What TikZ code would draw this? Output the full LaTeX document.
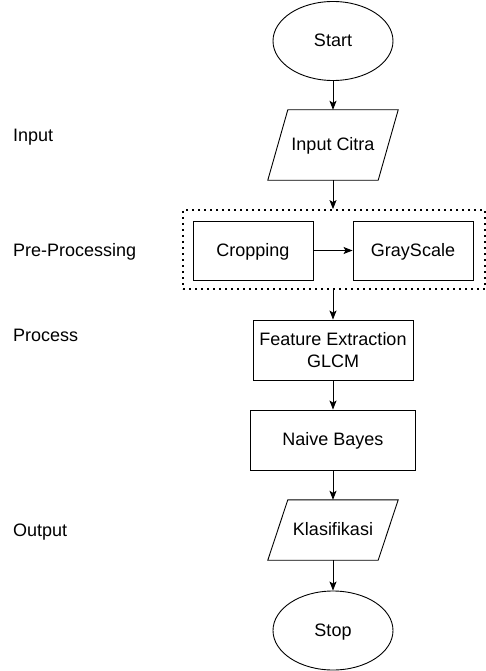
\documentclass[tikz,border=0pt]{standalone}
\usepackage{fontspec}
\setmainfont{Liberation Sans}
\usetikzlibrary{shapes.geometric}
\usetikzlibrary{calc}
\usetikzlibrary{arrows.meta}
\tikzset{linha/.style={text height=14.8pt,text depth=3.8pt}}
\tikzset{passo/.style={draw=#1,line width=0.9pt,minimum width=120pt,minimum height=59pt,inner sep=0pt},passo/.default=black}
\tikzset{terminal/.style={ellipse,draw=#1,line width=0.9pt,minimum width=120pt,minimum height=79pt,inner sep=0pt,linha},terminal/.default=black}
\tikzset{dado/.style={color=#1,line width=0.9pt},dado/.default=black}
\tikzset{seta/.style={color=#1,line width=0.9pt,-{Stealth[length=9pt,width=7pt,inset=2pt]}},seta/.default=black}
\tikzset{grupo/.style={draw=#1,line width=1.8pt,dash pattern=on 1.8pt off 4.2pt},grupo/.default=black}
\tikzset{rotulo/.style={anchor=west,inner sep=0pt,linha}}

\begin{document}
\begin{tikzpicture}[x=1pt,y=-1pt,font=\fontsize{18}{21.5}\selectfont]
	\useasboundingbox (0,0) rectangle (486,671);

	% Rotulos das etapas
	\node [rotulo] (lInput) at (13,136.4) {Input};
	\node [rotulo] (lPre) at (13,251.4) {Pre-Processing};
	\node [rotulo] (lProc) at (13,336.4) {Process};
	\node [rotulo] (lOut) at (13,531.4) {Output};

	% Inicio e entrada
	\node [terminal] (start) at (333,41) {Start};
	\node [inner sep=0pt,minimum width=110pt,minimum height=70pt,linha] (citra) at (333,145) {Input Citra};
	\draw [dado] ($(citra.north west)+(10,0)$) -- ($(citra.north east)+(10,0)$) --
				($(citra.south east)-(10,0)$) -- ($(citra.south west)-(10,0)$) -- cycle;

	% Pre-processamento
	\node [grupo,minimum width=302pt,minimum height=79pt] (pre) at (334,249.5) {};
	\node [passo,linha] (crop) at (253,250.5) {Cropping};
	\node [passo,linha] (gray) at (413,250.5) {GrayScale};

	% Processo
	\node [passo,minimum width=160pt,minimum height=60pt,align=center] (glcm) at (333,350) {Feature Extraction\\GLCM};
	\node [passo,minimum width=165pt,minimum height=60pt,linha] (bayes) at (333,440) {Naive Bayes};

	% Saida e fim
	\node [inner sep=0pt,minimum width=110pt,minimum height=60pt,linha] (klas) at (333,530) {Klasifikasi};
	\draw [dado] ($(klas.north west)+(10,0)$) -- ($(klas.north east)+(10,0)$) --
				($(klas.south east)-(10,0)$) -- ($(klas.south west)-(10,0)$) -- cycle;
	\node [terminal] (stop) at (333,630.5) {Stop};

	% Setas
	\draw [seta] (start) -- (citra.north);
	\draw [seta] (citra.south) -- (citra.south |- pre.north);
	\draw [seta] (crop) -- (gray);
	\draw [seta] (glcm.north |- pre.south) -- (glcm.north);
	\draw [seta] (glcm) -- (bayes);
	\draw [seta] (bayes) -- (klas.north);
	\draw [seta] (klas.south) -- (stop);
\end{tikzpicture}
\end{document}
